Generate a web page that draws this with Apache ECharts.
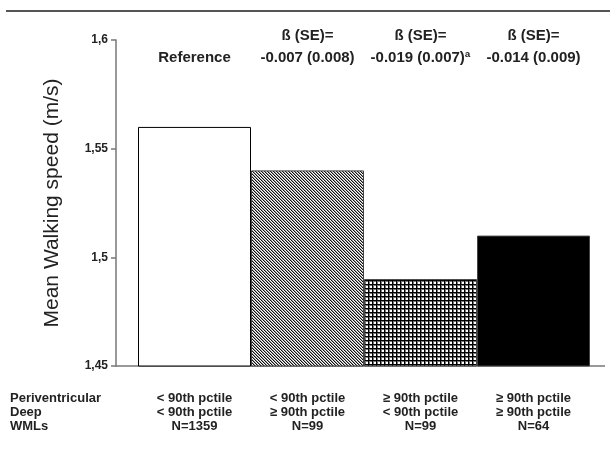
<!DOCTYPE html>
<html>
<head>
<meta charset="utf-8">
<script src="https://cdn.jsdelivr.net/npm/echarts@6/dist/echarts.min.js"></script>
<style>html,body{margin:0;padding:0;background:#fff}#c{width:610px;height:454px}</style>
</head>
<body>
<div id="c"></div>
<script>
// ---- data ----
var periventricular = ['< 90th pctile', '< 90th pctile', '\u2265 90th pctile', '\u2265 90th pctile'];
var deep = ['< 90th pctile', '\u2265 90th pctile', '< 90th pctile', '\u2265 90th pctile'];
var nCounts = ['N=1359', 'N=99', 'N=99', 'N=64'];
var meanSpeed = [1.56, 1.54, 1.49, 1.51];
var betaHeader = ['', '\u00df (SE)=', '\u00df (SE)=', '\u00df (SE)='];
var betaValue = ['Reference', '-0.007 (0.008)', '-0.019 (0.007)\u00aa', '-0.014 (0.009)'];
var yTicks = [1.45, 1.5, 1.55, 1.6];
var rowHeader = ['Periventricular', 'Deep', 'WMLs'];

// ---- patterns ----
function diagPattern() {
  var c = document.createElement('canvas'); c.width = 3; c.height = 3;
  var g = c.getContext('2d');
  g.fillStyle = '#fff'; g.fillRect(0, 0, 3, 3);
  for (var i = 0; i < 3; i++) {
    g.fillStyle = '#111'; g.fillRect(i, i, 1, 1);
    g.fillStyle = '#999'; g.fillRect((i + 1) % 3, i, 1, 1);
  }
  return c;
}
function gridPattern() {
  var c = document.createElement('canvas'); c.width = 4; c.height = 4;
  var g = c.getContext('2d');
  g.fillStyle = '#fff'; g.fillRect(0, 0, 4, 4);
  g.fillStyle = '#000'; g.fillRect(0, 0, 4, 1); g.fillRect(0, 0, 1, 4);
  g.fillStyle = '#777'; g.fillRect(1, 1, 3, 1); g.fillRect(1, 1, 1, 3);
  return c;
}
var fills = [
  '#ffffff',
  { image: diagPattern(), repeat: 'repeat' },
  { image: gridPattern(), repeat: 'repeat' },
  '#000000'
];

var cats = meanSpeed.map(function (v, i) { return periventricular[i] + '\n' + deep[i] + '\n' + nCounts[i]; });
var topCats = betaValue.map(function (v, i) { return betaHeader[i] + '\n' + v; });

var chart = echarts.init(document.getElementById('c'), null, { renderer: 'canvas' });
var FONT = '"Liberation Sans", Arial, sans-serif';
chart.setOption({
  animation: false,
  backgroundColor: '#ffffff',
  title: {
    text: rowHeader.join('\n'),
    left: 10, top: 391, padding: 0,
    textStyle: { fontFamily: FONT, fontSize: 13, fontWeight: 'bold', color: '#222', lineHeight: 14 }
  },
  grid: { left: 138, right: 20, top: 40, bottom: 88 },
  xAxis: [{
    type: 'category',
    data: cats,
    axisLine: { show: false },
    axisTick: { show: false },
    axisLabel: { interval: 0, margin: 25, fontFamily: FONT, fontSize: 13, fontWeight: 'bold', color: '#222', lineHeight: 14 }
  }, {
    type: 'category',
    position: 'top',
    offset: -29,
    data: topCats,
    axisLine: { show: false },
    axisTick: { show: false },
    axisLabel: { interval: 0, margin: 0, fontFamily: FONT, fontSize: 15, fontWeight: 'bold', color: '#222', lineHeight: 22 }
  }],
  yAxis: {
    type: 'value',
    min: yTicks[0], max: yTicks[yTicks.length - 1], interval: 0.05,
    offset: 22,
    name: 'Mean Walking speed (m/s)',
    nameLocation: 'middle',
    nameGap: 53,
    nameTextStyle: { fontFamily: FONT, fontSize: 21, color: '#222' },
    axisLine: { show: true, lineStyle: { color: '#777', width: 1.5 } },
    axisTick: { show: true, length: 5, lineStyle: { color: '#777', width: 1.5 } },
    splitLine: { show: false },
    axisLabel: {
      margin: 8, fontFamily: FONT, fontSize: 12, fontWeight: 'bold', color: '#222',
      formatter: function (v) { return String(Math.round(v * 100) / 100).replace('.', ','); }
    }
  },
  series: [{
    type: 'bar',
    data: meanSpeed.map(function (v, i) {
      return { value: v, itemStyle: { color: fills[i], borderColor: i === 0 ? '#000' : '#444', borderWidth: 1 } };
    }),
    barWidth: '100%',
    barCategoryGap: 0
  }],
  graphic: [
    { type: 'line', shape: { x1: 6, y1: 11, x2: 610, y2: 11 }, style: { stroke: '#555', lineWidth: 2 } },
    { type: 'line', shape: { x1: 116, y1: 366, x2: 605, y2: 366 }, style: { stroke: '#777', lineWidth: 1.5 } }
  ]
});
</script>
</body>
</html>
